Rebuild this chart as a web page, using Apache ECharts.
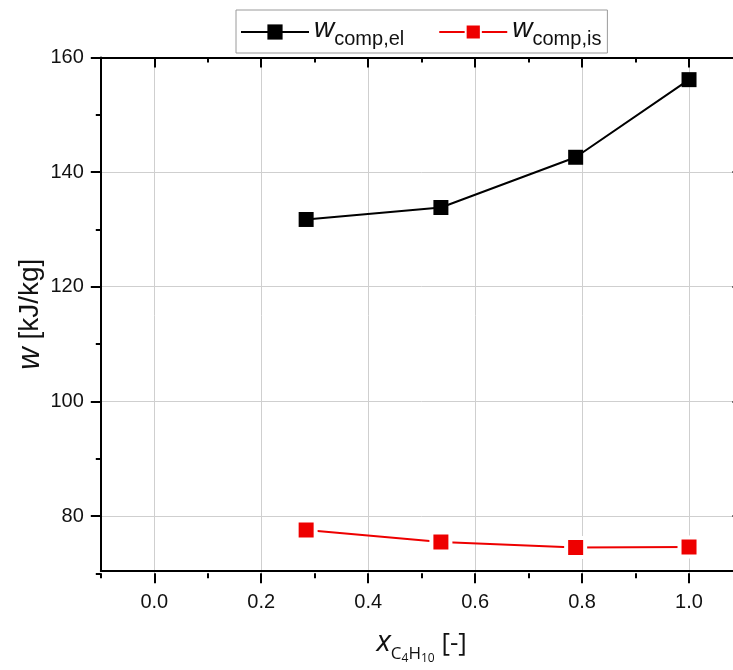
<!DOCTYPE html>
<html>
<head>
<meta charset="utf-8">
<script src="https://cdn.jsdelivr.net/npm/echarts@6/dist/echarts.min.js"></script>
<style>
  html, body { margin: 0; padding: 0; overflow: hidden; background: #fff; }
  #chart { width: 760px; height: 670px; }
</style>
</head>
<body>
<div id="chart"></div>
<script>
// x: mole fraction of butane, y: specific work [kJ/kg]
const xValues = [0.284, 0.536, 0.788, 1.0];
const wCompEl = [131.6, 133.7, 142.5, 156.1];
const wCompIs = [77.2, 75.1, 74.1, 74.2];
const xTickLabels = ['0.0', '0.2', '0.4', '0.6', '0.8', '1.0'];
const yTickLabels = ['80', '100', '120', '140', '160'];

const FONT = 'Liberation Sans';
const TICK = { color: '#000', width: 2 };

// plot box; the right edge runs just past the window (cropped like the original)
const box = { left: 100.8, right: 17.5, top: 57.4, bottom: 96.7 };
// box of the major x ticks (0.0 .. 1.0) and of the major y ticks (80 .. 160)
const xMajorBox = { left: 154.3, right: 71, top: 57.4, bottom: 96.7 };
const yMajorBox = { left: 100.8, right: 17.5, top: 57.4, bottom: 154 };

const hidden = (type, grid) => ({ type: 'value', gridIndex: grid, show: false, min: 0, max: 1 });

function frameX(position) {
  return {
    type: 'value', gridIndex: 0, position: position, min: -0.1, max: 1.1,
    axisLine: { show: true, onZero: false, lineStyle: { color: '#000', width: 2 } },
    axisTick: { show: false }, axisLabel: { show: false }, splitLine: { show: false }
  };
}
function frameY(position) {
  return {
    type: 'value', gridIndex: 0, position: position, min: 70, max: 160,
    axisLine: { show: true, onZero: false, lineStyle: { color: '#000', width: 2 } },
    axisTick: { show: false }, axisLabel: { show: false }, splitLine: { show: false }
  };
}
function minorX(position) {
  return {
    type: 'value', gridIndex: 1, position: position, min: -0.1, max: 1.1, interval: 0.1,
    axisLine: { show: false, onZero: false },
    axisTick: { show: true, inside: position === 'top', length: 5, lineStyle: TICK },
    axisLabel: { show: false }, splitLine: { show: false }
  };
}
function minorY(position) {
  return {
    type: 'value', gridIndex: 1, position: position, min: 70, max: 160, interval: 10,
    axisLine: { show: false, onZero: false },
    axisTick: { show: true, inside: position === 'right', length: 5, lineStyle: TICK },
    axisLabel: { show: false }, splitLine: { show: false }
  };
}
function majorX(position) {
  const bottom = position === 'bottom';
  return {
    type: 'value', gridIndex: 2, position: position, min: 0, max: 1, interval: 0.2,
    axisLine: { show: false, onZero: false },
    axisTick: { show: true, inside: !bottom, length: 10, lineStyle: TICK },
    axisLabel: { show: bottom, margin: 19, fontFamily: FONT, fontSize: 20, color: '#111',
                 formatter: (v) => xTickLabels[Math.round(v * 5)] },
    splitLine: { show: bottom, lineStyle: { color: '#cfcfcf', width: 1 } }
  };
}
function majorY(position) {
  const left = position === 'left';
  return {
    type: 'value', gridIndex: 3, position: position, min: 80, max: 160, interval: 20,
    axisLine: { show: false, onZero: false },
    axisTick: { show: true, inside: !left, length: 10, lineStyle: TICK },
    axisLabel: { show: left, margin: 17, fontFamily: FONT, fontSize: 20, color: '#111',
                 formatter: (v) => yTickLabels[Math.round((v - 80) / 20)] },
    splitLine: { show: left, lineStyle: { color: '#cfcfcf', width: 1 } }
  };
}

const xBottom = frameX('bottom');
xBottom.name = '{x|x}{c|C}{n|4}{c|H}{n|10}{b| [-]}';
xBottom.nameLocation = 'middle';
xBottom.nameGap = 56;
xBottom.nameTextStyle = {
  rich: {
    x: { fontFamily: 'Open Sans', fontStyle: 'italic', fontSize: 30, color: '#111',
         verticalAlign: 'bottom', padding: [0, 0, 8, 0] },
    c: { fontFamily: 'Open Sans', fontSize: 17, color: '#111', verticalAlign: 'bottom', padding: [0, 0, 2, 0] },
    n: { fontFamily: 'Open Sans', fontSize: 12, color: '#111', verticalAlign: 'bottom' },
    b: { fontFamily: 'Open Sans', fontSize: 26, color: '#111', verticalAlign: 'bottom', padding: [0, 0, 8, 0] }
  }
};

const yLeft = frameY('left');
yLeft.name = '{w|w}{n| [kJ/kg]}';
yLeft.nameLocation = 'middle';
yLeft.nameRotate = 90;
yLeft.nameGap = 55;
yLeft.nameTextStyle = {
  rich: {
    w: { fontFamily: FONT, fontStyle: 'italic', fontSize: 31, color: '#111' },
    n: { fontFamily: FONT, fontSize: 28, color: '#111' }
  }
};

const legendRich = {
  w: { fontFamily: FONT, fontStyle: 'italic', fontSize: 28, color: '#111',
       verticalAlign: 'bottom', padding: [0, 0, 6, 0] },
  s: { fontFamily: FONT, fontSize: 20, color: '#111', verticalAlign: 'bottom' }
};

const chart = echarts.init(document.getElementById('chart'), null, { renderer: 'canvas' });

chart.setOption({
  animation: false,
  backgroundColor: '#fff',
  grid: [
    Object.assign({}, box),
    Object.assign({}, box),
    Object.assign({}, xMajorBox),
    Object.assign({}, yMajorBox)
  ],
  xAxis: [xBottom, frameX('top'), minorX('bottom'), minorX('top'),
          majorX('bottom'), majorX('top'), hidden('x', 3)],
  yAxis: [yLeft, frameY('right'), minorY('left'), minorY('right'),
          hidden('y', 2), majorY('left'), majorY('right')],
  legend: {
    left: 236, top: 10,
    orient: 'horizontal',
    itemWidth: 68, itemHeight: 19, itemGap: 34,
    padding: [5, 6, 4, 4],
    borderColor: '#9a9a9a', borderWidth: 1,
    backgroundColor: '#fff',
    formatter: (name) => name === 'el' ? '{w|w}{s|comp,el}' : '{w|w}{s|comp,is}',
    textStyle: { rich: legendRich },
    data: ['el', 'is']
  },
  series: [
    {
      name: 'el', type: 'line', xAxisIndex: 0, yAxisIndex: 0,
      data: xValues.map((x, i) => [x, wCompEl[i]]),
      symbol: 'rect', symbolSize: 15,
      lineStyle: { color: '#000', width: 2 },
      itemStyle: { color: '#000' }
    },
    {
      name: 'is', type: 'line', xAxisIndex: 0, yAxisIndex: 0,
      data: xValues.map((x, i) => [x, wCompIs[i]]),
      symbol: 'rect', symbolSize: 19,
      lineStyle: { color: '#ee0000', width: 2 },
      itemStyle: { color: '#ee0000', borderColor: '#fff', borderWidth: 4 }
    }
  ]
});
</script>
</body>
</html>
